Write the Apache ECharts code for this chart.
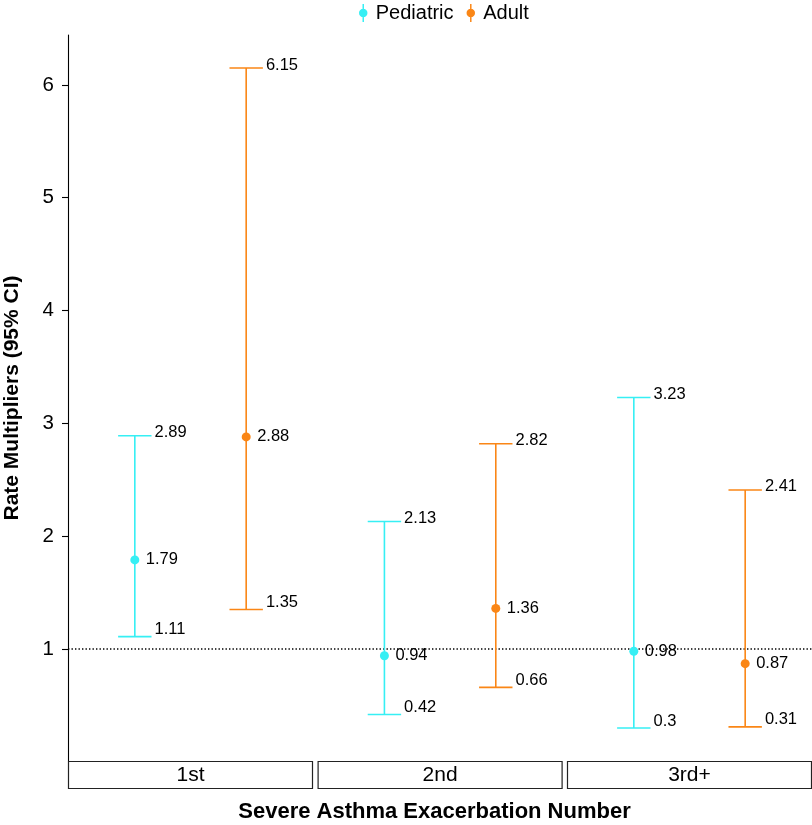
<!DOCTYPE html>
<html><head><meta charset="utf-8">
<script src="https://cdn.jsdelivr.net/npm/echarts@6/dist/echarts.min.js"></script>
<style>html,body{margin:0;padding:0;background:#fff}#c{width:812px;height:825px}</style>
</head><body><div id="c"></div>
<script>
// ---- data ----
const categories = ['1st', '2nd', '3rd+'];
const groups = ['Pediatric', 'Adult'];
const pediatricEstimate = [1.79, 0.94, 0.98];
const pediatricLower = [1.11, 0.42, 0.3];
const pediatricUpper = [2.89, 2.13, 3.23];
const adultEstimate = [2.88, 1.36, 0.87];
const adultLower = [1.35, 0.66, 0.31];
const adultUpper = [6.15, 2.82, 2.41];
const yTicks = [1, 2, 3, 4, 5, 6];
const referenceLine = [1];

// ---- style / layout ----
const colors = { Pediatric: '#36EFF4', Adult: '#FA8616' };
const FONT = '"Liberation Sans", Arial, Helvetica, sans-serif';
const est = { Pediatric: pediatricEstimate, Adult: adultEstimate };
const low = { Pediatric: pediatricLower, Adult: adultLower };
const high = { Pediatric: pediatricUpper, Adult: adultUpper };

const allVals = [].concat(pediatricLower, adultLower, pediatricUpper, adultUpper);
const vLo = Math.min.apply(null, allVals), vHi = Math.max.apply(null, allVals);
const padV = (vHi - vLo) * 0.05;
const yMin = vLo - padV, yMax = vHi + padV;

const panelLeft = [68, 317.6, 567];
const panelWidth = 245;
const plotTop = 35, plotBottomPx = 761;
const stripH = 27;

const gridBase = { top: plotTop, bottom: 825 - plotBottomPx, containLabel: false, outerBoundsMode: 'none' };
const grids = panelLeft.map(l => Object.assign({ left: l, width: panelWidth }, gridBase));
grids.push(Object.assign({ left: 68, right: 0 }, gridBase));

const xAxes = panelLeft.map((l, i) => ({ gridIndex: i, type: 'value', min: 0.4, max: 2.6, show: false }));
xAxes.push({
  gridIndex: 3, type: 'value', min: 0, max: 1,
  axisLine: { show: false, onZero: false }, axisTick: { show: false }, axisLabel: { show: false }, splitLine: { show: false },
  name: 'Severe Asthma Exacerbation Number', nameLocation: 'middle', nameGap: 51,
  nameTextStyle: { fontFamily: FONT, fontSize: 22, fontWeight: 'bold', color: '#000', verticalAlign: 'middle', padding: [0, 11, 0, 0] }
});
const yAxes = panelLeft.map((l, i) => ({ gridIndex: i, type: 'value', min: yMin, max: yMax, show: false }));
yAxes.push({
  gridIndex: 3, type: 'value', min: yMin, max: yMax,
  axisLine: { show: true, onZero: false, lineStyle: { color: '#000', width: 1.1 } },
  axisTick: { show: true, length: 6, customValues: yTicks, lineStyle: { color: '#000', width: 1.1 } },
  axisLabel: { customValues: yTicks, fontSize: 20.5, fontFamily: FONT, color: '#000', margin: 14 },
  splitLine: { show: false },
  name: 'Rate Multipliers (95% CI)', nameLocation: 'middle', nameRotate: 90, nameGap: 56,
  nameTextStyle: { fontFamily: FONT, fontSize: 21, fontWeight: 'bold', color: '#000', verticalAlign: 'middle' }
});

function renderErrorBar(params, api) {
  const x = api.value(0), lo = api.value(1), hi = api.value(2);
  const pTop = api.coord([x, hi]), pBot = api.coord([x, lo]);
  const wl = api.coord([x - 0.15, hi])[0], wr = api.coord([x + 0.15, hi])[0];
  const color = api.visual('color');
  const ls = { stroke: color, lineWidth: 1.6 };
  const ts = (txt, px, py) => ({ type: 'text', style: { text: txt, x: px, y: py, fill: '#000', fontSize: 16.5, fontFamily: FONT, align: 'left', verticalAlign: 'middle' } });
  return {
    type: 'group',
    children: [
      { type: 'line', shape: { x1: pTop[0], y1: pTop[1], x2: pBot[0], y2: pBot[1] }, style: ls },
      { type: 'line', shape: { x1: wl, y1: pTop[1], x2: wr, y2: pTop[1] }, style: ls },
      { type: 'line', shape: { x1: wl, y1: pBot[1], x2: wr, y2: pBot[1] }, style: ls },
      ts(String(hi), wr + 3, pTop[1] - 3),
      ts(String(lo), wr + 3, pBot[1] - 7)
    ]
  };
}

const series = [{
  type: 'line', xAxisIndex: 3, yAxisIndex: 3, silent: true, showSymbol: false, symbol: 'none',
  data: [[0, referenceLine[0]], [1, referenceLine[0]]],
  lineStyle: { color: '#000', width: 1.4, type: [1.4, 2.1] }, z: 1
}];
categories.forEach((cat, i) => {
  groups.forEach((g, gi) => {
    series.push({
      type: 'custom', name: g, xAxisIndex: i, yAxisIndex: i,
      itemStyle: { color: colors[g] },
      data: [[gi + 1, low[g][i], high[g][i]]],
      renderItem: renderErrorBar, z: 2
    });
  });
  groups.forEach((g, gi) => {
    series.push({
      type: 'scatter', name: g, xAxisIndex: i, yAxisIndex: i,
      symbol: 'circle', symbolSize: 9,
      itemStyle: { color: colors[g], opacity: 1 },
      data: [[gi + 1, est[g][i]]],
      label: { show: true, position: 'right', distance: 6.5, fontSize: 16.5, fontFamily: FONT, color: '#000',
               formatter: p => String(p.value[1]) },
      z: 3
    });
  });
});

const graphics = [];
categories.forEach((cat, i) => {
  graphics.push({ type: 'rect', shape: { x: panelLeft[i] + 0.5, y: plotBottomPx + 0.5, width: panelWidth - 1, height: stripH },
                  style: { fill: '#fff', stroke: '#222', lineWidth: 1.2 }, z: 10 });
  graphics.push({ type: 'text', x: panelLeft[i] + panelWidth / 2, y: plotBottomPx + stripH / 2 + 1,
                  style: { text: cat, fontSize: 21, fontFamily: FONT, fill: '#000', align: 'center', verticalAlign: 'middle' }, z: 11 });
});

const iconPath = 'path://M3.3,0L4.7,0L4.7,17L3.3,17Z M4,4.5A4,4 0 1 1 3.99,4.5Z';

const option = {
  animation: false,
  backgroundColor: '#fff',
  grid: grids,
  xAxis: xAxes,
  yAxis: yAxes,
  legend: {
    top: -2, left: 354, itemWidth: 9, itemHeight: 18, itemGap: 13,
    textStyle: { fontSize: 20, fontFamily: FONT, color: '#000', padding: [0, 0, 0, 3] },
    data: groups.map(g => ({ name: g, icon: iconPath, itemStyle: { color: colors[g] } }))
  },
  graphic: graphics,
  series: series
};
echarts.init(document.getElementById('c')).setOption(option);
</script></body></html>
